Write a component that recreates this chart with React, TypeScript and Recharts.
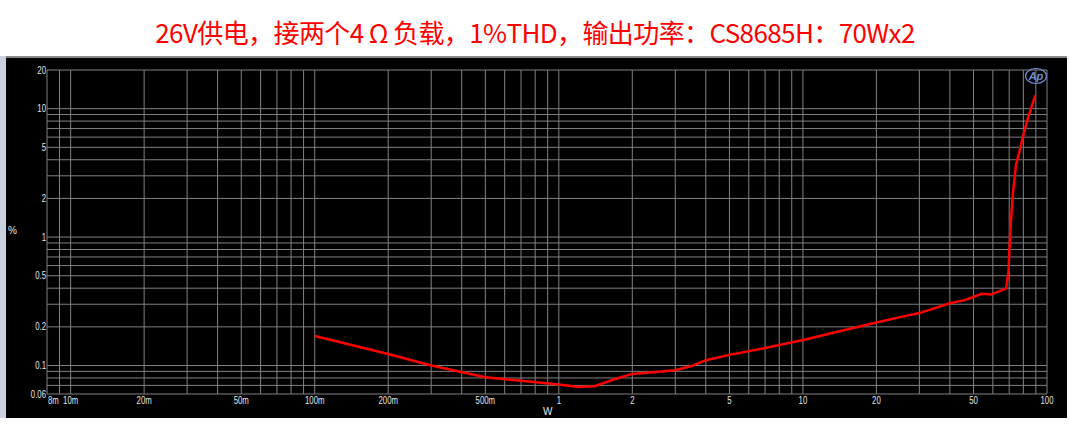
import { LineChart, Line, XAxis, YAxis, CartesianGrid } from 'recharts'

// measured output power (W) and THD+N (%)
const powerW = [0.1, 0.2, 0.3, 0.5, 0.7, 1, 1.2, 1.4, 1.7, 2, 2.5, 3, 3.5, 4, 5, 7, 10, 15, 20, 25, 30, 40, 46, 54, 59, 64, 68, 69.5, 70.6, 72.2, 74.6, 77, 80, 83, 86, 89.5]
const thdPct = [0.17, 0.123, 0.1, 0.081, 0.076, 0.071, 0.068, 0.069, 0.0785, 0.086, 0.089, 0.092, 0.099, 0.11, 0.121, 0.137, 0.158, 0.19, 0.216, 0.238, 0.256, 0.305, 0.323, 0.362, 0.358, 0.38, 0.399, 0.537, 1.04, 2.01, 3.64, 4.6, 6.2, 8.1, 10.0, 12.7]

const xGrid = [0.008, 0.009, 0.01, 0.02, 0.03, 0.04, 0.05, 0.06, 0.07, 0.08, 0.09, 0.1, 0.2, 0.3, 0.4, 0.5, 0.6, 0.7, 0.8, 0.9, 1, 2, 3, 4, 5, 6, 7, 8, 9, 10, 20, 30, 40, 50, 60, 70, 80, 90, 100]
const xLabels: Record<string, string> = {
    '0.008': '8m', '0.01': '10m', '0.02': '20m', '0.05': '50m', '0.1': '100m', '0.2': '200m', '0.5': '500m',
    '1': '1', '2': '2', '5': '5', '10': '10', '20': '20', '50': '50', '100': '100',
}
const yGrid = [0.06, 0.07, 0.08, 0.09, 0.1, 0.2, 0.3, 0.4, 0.5, 0.6, 0.7, 0.8, 0.9, 1, 2, 3, 4, 5, 6, 7, 8, 9, 10, 20]
const yLabels = ['0.06', '0.1', '0.2', '0.5', '1', '2', '5', '10', '20']

const title = '26V供电，接两个4 Ω 负载，1%THD，输出功率：CS8685H：70Wx2'

const data = powerW.map((w, i) => ({ w, thd: thdPct[i] }))

const FONT = '"Liberation Sans", Arial, sans-serif'
const SQUEEZE = 0.78 // analyzer font is narrow

type TickProps = { x?: number; y?: number; payload?: { value: number } }

function XTick({ x = 0, y = 0, payload }: TickProps) {
    const label = xLabels[String(payload?.value)]
    if (!label) return null
    const first = payload?.value === 0.008
    return (
        <text transform={`translate(${x + (first ? 1 : 0)},${y + 10}) scale(${SQUEEZE},1)`} textAnchor={first ? 'start' : 'middle'} fontSize={10} fill="#e6e6e6" fontFamily={FONT}>
            {label}
        </text>
    )
}

function YTick({ x = 0, y = 0, payload }: TickProps) {
    const label = String(payload?.value)
    if (!yLabels.includes(label)) return null
    return (
        <text transform={`translate(${x - 1},${y + 3.5}) scale(${SQUEEZE},1)`} textAnchor="end" fontSize={10} fill="#e6e6e6" fontFamily={FONT}>
            {label}
        </text>
    )
}

export default function App() {
    return (
        <div style={{ position: 'absolute', left: 0, top: 0, width: 1070, height: 428, background: '#fff', overflow: 'hidden' }}>
            <div
                style={{
                    position: 'absolute', left: 0, top: 14, width: 1070, textAlign: 'center',
                    color: '#ff0000', fontSize: 26, fontFamily: '"Noto Sans CJK SC", sans-serif', lineHeight: '36px',
                    letterSpacing: -0.6,
                }}
            >
                {title}
            </div>

            {/* dark analyzer panel */}
            <div style={{ position: 'absolute', left: 0, top: 56, width: 6, height: 362, background: '#c9d2de' }} />
            <div style={{ position: 'absolute', left: 6, top: 56, width: 1061, height: 362, background: '#000', borderTop: '2px solid #8a8a8a', boxSizing: 'border-box' }} />

            <div style={{ position: 'absolute', left: 0, top: 0 }}>
                <LineChart width={1070} height={428} data={data} margin={{ top: 70, right: 23, bottom: 14, left: 0 }}>
                    <CartesianGrid stroke="#808080" strokeWidth={1} />
                    <XAxis
                        dataKey="w"
                        type="number"
                        scale="log"
                        domain={[0.008, 100]}
                        allowDataOverflow
                        ticks={xGrid}
                        interval={0}
                        height={20}
                        tick={<XTick />}
                        tickLine={false}
                        axisLine={false}
                        tickSize={0}
                        tickMargin={0}
                    />
                    <YAxis
                        dataKey="thd"
                        type="number"
                        scale="log"
                        domain={[0.06, 20]}
                        allowDataOverflow
                        ticks={yGrid}
                        interval={0}
                        width={47}
                        tick={<YTick />}
                        tickLine={false}
                        axisLine={false}
                        tickSize={0}
                        tickMargin={0}
                    />
                    <Line
                        dataKey="thd"
                        type="linear"
                        stroke="#ff0000"
                        strokeWidth={2.5}
                        dot={false}
                        isAnimationActive={false}
                    />
                </LineChart>
            </div>

            <div style={{ position: 'absolute', left: 8, top: 225, color: '#e6e6e6', fontSize: 10, fontFamily: FONT }}>%</div>
            <div style={{ position: 'absolute', left: 543, top: 406, color: '#e6e6e6', fontSize: 10, fontFamily: FONT }}>W</div>

            {/* AP logo */}
            <svg style={{ position: 'absolute', left: 1024, top: 67 }} width={24} height={18}>
                <ellipse cx={12} cy={9} rx={10.5} ry={7.5} fill="none" stroke="#6f8fd8" strokeWidth={1.2} />
                <text x={12} y={13} textAnchor="middle" fontSize={11} fontStyle="italic" fontWeight="bold" fill="#6f8fd8" fontFamily={FONT}>Ap</text>
            </svg>
        </div>
    )
}
